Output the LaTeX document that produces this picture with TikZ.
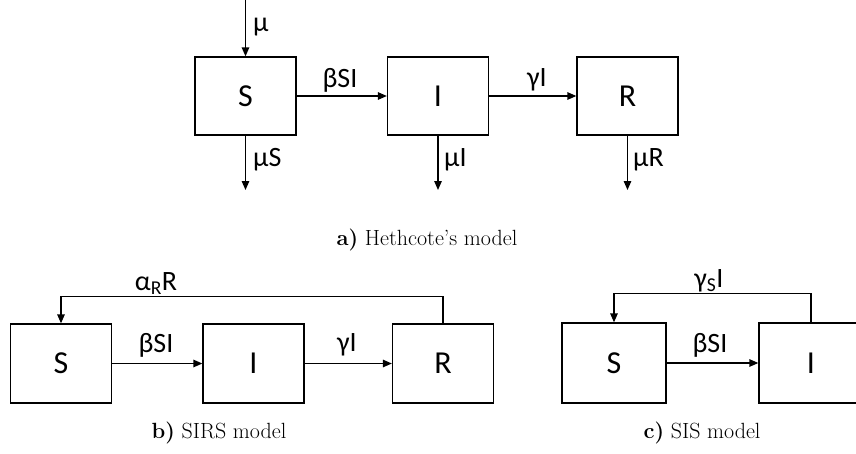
\documentclass[tikz,border=0pt]{standalone}
\usepackage{fontspec}
\newfontfamily\boxfont{Carlito}
\usetikzlibrary{arrows.meta}
\begin{document}
\begin{tikzpicture}[x=1pt,y=-1pt,
  comp/.style={draw,line width=1.3pt,minimum width=101pt,minimum height=78pt,inner sep=0pt,
    font=\boxfont\fontsize{32}{36}\selectfont},
  flow/.style={line width=1.3pt,-{Triangle[length=9pt,width=7.5pt]}},
  lab/.style={font=\boxfont\fontsize{28}{31}\selectfont,inner sep=0pt},
  captxt/.style={font=\fontsize{22}{26}\selectfont,inner sep=0pt}]
\useasboundingbox (0,0) rectangle (856,453);
\clip (0,0) rectangle (856,453);
% a) Hethcote's model
\node[comp] (S1) at (245.5,96) {S};
\node[comp] (I1) at (438,96) {I};
\node[comp] (R1) at (627.5,96) {R};
\coordinate (in1) at (245.5,0);
\coordinate (oS1) at (245.5,190);
\coordinate (oI1) at (438,190);
\coordinate (oR1) at (627.5,190);
\draw[flow] (in1) -- (S1.north);
\draw[flow] (S1.east) -- (I1.west);
\draw[flow] (I1.east) -- (R1.west);
\draw[flow] (S1.south) -- (oS1);
\draw[flow] (I1.south) -- (oI1);
\draw[flow] (R1.south) -- (oR1);
\node[lab,anchor=west] (lmu) at (253,27) {µ};
\node[lab] (lbeta1) at (340,80) {βSI};
\node[lab] (lgamma1) at (537,80) {γI};
\node[lab,anchor=west] (lmuS) at (253,160) {µS};
\node[lab,anchor=west] (lmuI) at (444,160) {µI};
\node[lab,anchor=west] (lmuR) at (633,160) {µR};
\node[captxt] (capa) at (427,240) {\textbf{a)} Hethcote's model};
% b) SIRS model
\node[comp,minimum height=79pt] (S2) at (61,363.5) {S};
\node[comp,minimum height=79pt] (I2) at (253.5,363.5) {I};
\node[comp,minimum height=79pt] (R2) at (443,363.5) {R};
\draw[flow] (S2.east) -- (I2.west);
\draw[flow] (I2.east) -- (R2.west);
\draw[flow] (R2.north) -- ++(0,-27) -| (S2.north);
\node[lab] (lbeta2) at (156,345) {βSI};
\node[lab] (lgamma2) at (347,345) {γI};
\node[lab] (lalpha) at (156,284) {α\textsubscript{R}R};
\node[captxt] (capb) at (219,433) {\textbf{b)} SIRS model};
% c) SIS model
\node[comp,minimum width=104pt,minimum height=80pt] (S3) at (614,363) {S};
\node[comp,minimum width=104pt,minimum height=80pt] (I3) at (811,363) {I};
\draw[flow] (S3.east) -- (I3.west);
\draw[flow] (I3.north) -- ++(0,-29) -| (S3.north);
\node[lab] (lbeta3) at (710,345) {βSI};
\node[lab] (lgamma3) at (709,281) {γ\textsubscript{S}I};
\node[captxt] (capc) at (702,433) {\textbf{c)} SIS model};
\end{tikzpicture}
\end{document}
